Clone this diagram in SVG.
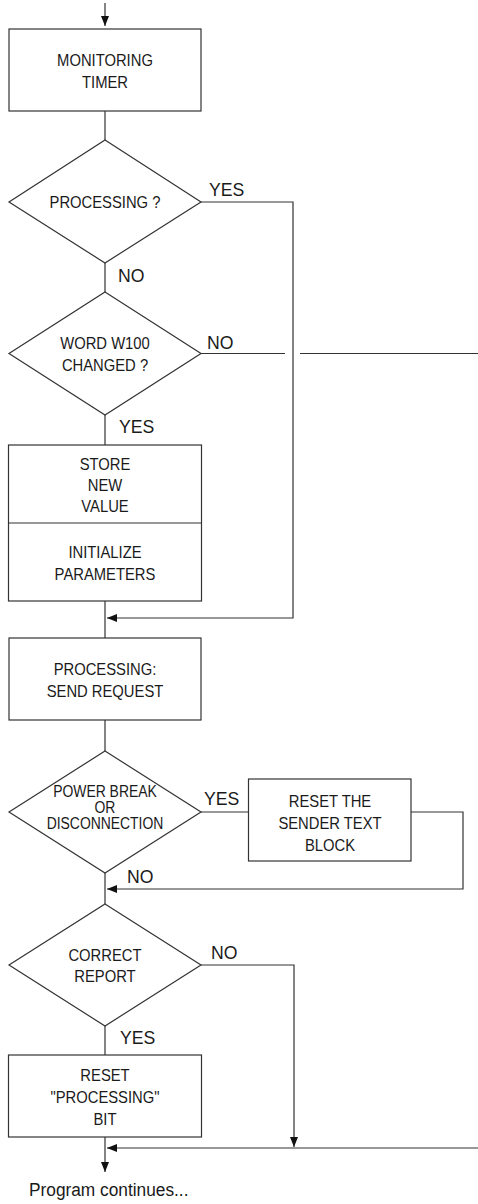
<svg xmlns="http://www.w3.org/2000/svg" width="478" height="1204" viewBox="0 0 478 1204">
<style>
.shape{fill:#fff;stroke:#333;stroke-width:1.2}
.line{fill:none;stroke:#333;stroke-width:1.2}
.t{font-family:"Liberation Sans",Arial,sans-serif;font-size:17px;fill:#1a1a1a;text-anchor:middle}
.t.s{font-size:16px}
.lbl{font-family:"Liberation Sans",Arial,sans-serif;font-size:19px;fill:#1a1a1a}
</style>
<defs>
<marker id="arr" viewBox="0 0 10 8" refX="10" refY="4" markerWidth="10" markerHeight="8" markerUnits="userSpaceOnUse" orient="auto">
<path d="M0,0 L10,4 L0,8 z" fill="#111"/>
</marker>
</defs>
<rect width="478" height="1204" fill="#fff"/>
<g id="connectors">
<path class="line" d="M105,3 V26" marker-end="url(#arr)"/>
<path class="line" d="M105,111 V140"/>
<path class="line" d="M105,263 V292"/>
<path class="line" d="M201,202 H293 V618 H107" marker-end="url(#arr)"/>
<path class="line" d="M201,353.5 H285"/>
<path class="line" d="M300,353.5 H478"/>
<path class="line" d="M105,415 V445"/>
<path class="line" d="M105,601 V638"/>
<path class="line" d="M105,720 V751"/>
<path class="line" d="M201,812 H248"/>
<path class="line" d="M411,812 H463 V889 H107" marker-end="url(#arr)"/>
<path class="line" d="M105,873 V904"/>
<path class="line" d="M201,965 H294 V1147" marker-end="url(#arr)"/>
<path class="line" d="M105,1026 V1055"/>
<path class="line" d="M478,1148 H107" marker-end="url(#arr)"/>
<path class="line" d="M105,1137 V1172" marker-end="url(#arr)"/>
</g>
<g id="labels">
<text class="lbl" transform="translate(209,196) scale(0.93,1)">YES</text>
<text class="lbl" transform="translate(118,282) scale(0.93,1)">NO</text>
<text class="lbl" transform="translate(207,349) scale(0.93,1)">NO</text>
<text class="lbl" transform="translate(119,433) scale(0.93,1)">YES</text>
<text class="lbl" transform="translate(204,805) scale(0.93,1)">YES</text>
<text class="lbl" transform="translate(127,883) scale(0.93,1)">NO</text>
<text class="lbl" transform="translate(211,959) scale(0.93,1)">NO</text>
<text class="lbl" transform="translate(120,1044) scale(0.93,1)">YES</text>
</g>
<g id="monitoring-timer">
<rect class="shape" x="9" y="29" width="192" height="82"/>
<g transform="matrix(0.87 0 0 1 13.65 0)">
<text class="t" x="105" y="66">MONITORING</text>
<text class="t" x="105" y="88">TIMER</text>
</g>
</g>
<g id="processing-decision">
<polygon class="shape" points="105,140 201,202 105,263 9,202"/>
<g transform="matrix(0.87 0 0 1 13.65 0)">
<text class="t" x="105" y="208">PROCESSING ?</text>
</g>
</g>
<g id="word-changed">
<polygon class="shape" points="105,292 201,353.5 105,415 9,353.5"/>
<g transform="matrix(0.87 0 0 1 13.65 0)">
<text class="t" x="105" y="349">WORD W100</text>
<text class="t" x="105" y="371">CHANGED ?</text>
</g>
</g>
<g id="store-init">
<rect class="shape" x="8.5" y="445" width="193" height="156"/>
<line class="line" x1="8.5" y1="523" x2="201.5" y2="523"/>
<g transform="matrix(0.87 0 0 1 13.65 0)">
<text class="t" x="105" y="470">STORE</text>
<text class="t" x="105" y="491">NEW</text>
<text class="t" x="105" y="512">VALUE</text>
<text class="t" x="105" y="558">INITIALIZE</text>
<text class="t" x="105" y="580">PARAMETERS</text>
</g>
</g>
<g id="send-request">
<rect class="shape" x="9" y="638" width="192" height="82"/>
<g transform="matrix(0.87 0 0 1 13.65 0)">
<text class="t" x="105" y="675">PROCESSING:</text>
<text class="t" x="105" y="697">SEND REQUEST</text>
</g>
</g>
<g id="power-break">
<polygon class="shape" points="105,751 201,812 105,873 9,812"/>
<g transform="matrix(0.87 0 0 1 13.65 0)">
<text class="t s" x="105" y="797">POWER BREAK</text>
<text class="t s" x="105" y="813">OR</text>
<text class="t s" x="105" y="829">DISCONNECTION</text>
</g>
</g>
<g id="reset-sender">
<rect class="shape" x="248.5" y="779" width="162.5" height="82"/>
<g transform="matrix(0.87 0 0 1 42.9 0)">
<text class="t" x="330" y="807">RESET THE</text>
<text class="t" x="330" y="829">SENDER TEXT</text>
<text class="t" x="330" y="851">BLOCK</text>
</g>
</g>
<g id="correct-report">
<polygon class="shape" points="105,904 201,965 105,1026 9,965"/>
<g transform="matrix(0.87 0 0 1 13.65 0)">
<text class="t" x="105" y="961">CORRECT</text>
<text class="t" x="105" y="982">REPORT</text>
</g>
</g>
<g id="reset-processing">
<rect class="shape" x="8.5" y="1055" width="193" height="82"/>
<g transform="matrix(0.87 0 0 1 13.65 0)">
<text class="t" x="105" y="1081">RESET</text>
<text class="t" x="105" y="1103">"PROCESSING"</text>
<text class="t" x="105" y="1125">BIT</text>
</g>
</g>
<text class="lbl" transform="translate(29,1196) scale(0.91,1)">Program continues...</text>
</svg>
